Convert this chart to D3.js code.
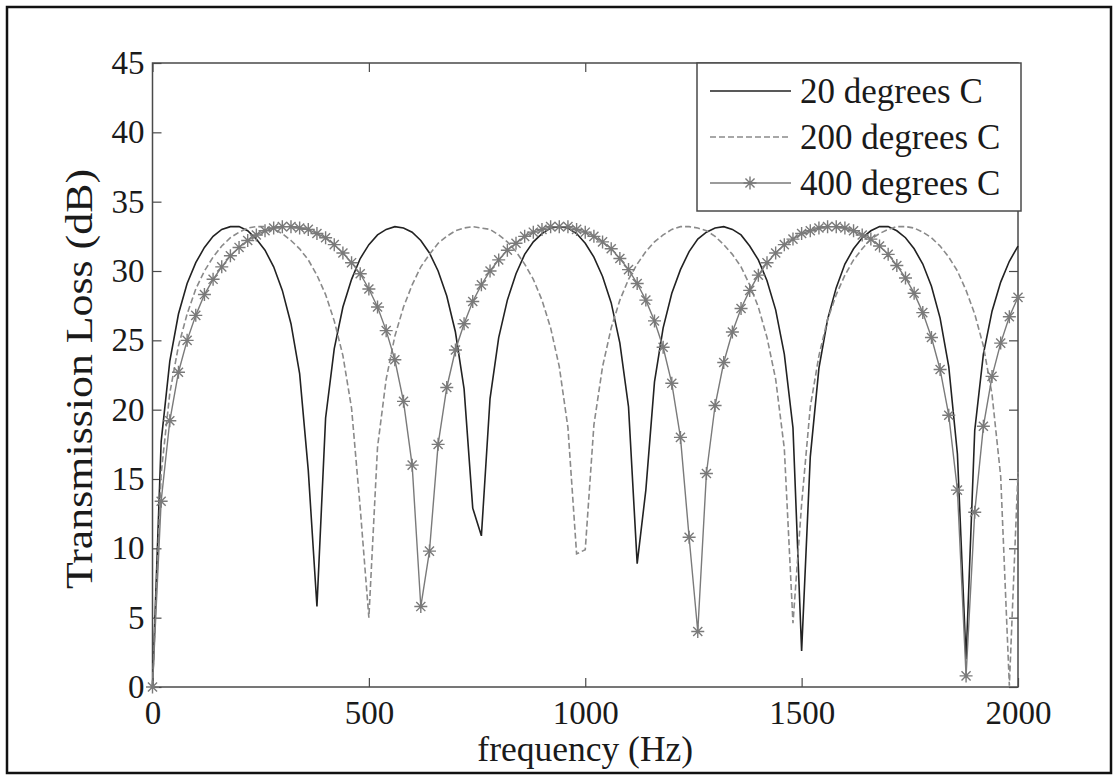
<!DOCTYPE html>
<html>
<head>
<meta charset="utf-8">
<script src="https://cdn.jsdelivr.net/npm/d3@7"></script>
<style>
  body { margin: 0; background: #fff; }
  svg text { font-family: "Liberation Serif", "Times New Roman", serif; fill: #1a1a1a; }
</style>
</head>
<body>
<svg id="chart" width="1120" height="776"></svg>
<script>
// sample grid (Hz), one point every 20 Hz
const freq = d3.range(0, 2001, 20);

// transmission loss (dB)
const tl20 = [0, 17.7, 23.5, 26.9, 29.1, 30.6, 31.7, 32.5, 33.0, 33.2,
  33.2, 32.9, 32.3, 31.5, 30.3, 28.6, 26.2, 22.6, 15.6, 5.8,
  19.4, 24.4, 27.4, 29.4, 30.9, 31.9, 32.6, 33.0, 33.2, 33.1,
  32.8, 32.2, 31.3, 30.0, 28.2, 25.6, 21.5, 12.9, 10.9, 20.8,
  25.2, 27.9, 29.8, 31.2, 32.1, 32.7, 33.1, 33.2, 33.1, 32.7,
  32.0, 31.0, 29.6, 27.7, 24.8, 20.2, 8.9, 14.2, 22.0, 25.9,
  28.4, 30.1, 31.4, 32.3, 32.8, 33.1, 33.2, 33.0, 32.6, 31.8,
  30.8, 29.3, 27.2, 24.0, 18.7, 2.6, 16.6, 23.0, 26.5, 28.8,
  30.5, 31.6, 32.4, 32.9, 33.2, 33.2, 32.9, 32.4, 31.6, 30.5,
  28.9, 26.6, 23.1, 16.8, 2.0, 18.5, 24.0, 27.1, 29.2, 30.7, 31.8];

const tl200 = [0, 15.4, 21.2, 24.6, 26.9, 28.7, 30.0, 31.0, 31.8, 32.4,
  32.8, 33.1, 33.2, 33.2, 33.0, 32.7, 32.2, 31.6, 30.8, 29.7,
  28.3, 26.4, 23.9, 20.1, 12.9, 5.0, 17.3, 22.2, 25.3, 27.4,
  29.0, 30.3, 31.2, 32.0, 32.5, 32.9, 33.1, 33.2, 33.1, 33.0,
  32.6, 32.1, 31.4, 30.5, 29.4, 27.9, 25.9, 23.1, 18.7, 9.6,
  9.9, 18.9, 23.1, 25.9, 27.9, 29.4, 30.5, 31.4, 32.1, 32.6,
  33.0, 33.2, 33.2, 33.1, 32.9, 32.5, 31.9, 31.2, 30.3, 29.0,
  27.4, 25.2, 22.2, 17.2, 4.6, 13.2, 20.2, 23.9, 26.5, 28.3,
  29.7, 30.8, 31.6, 32.3, 32.7, 33.0, 33.2, 33.2, 33.1, 32.8,
  32.4, 31.8, 31.0, 30.0, 28.6, 26.9, 24.6, 21.1, 15.2, 0.1, 15.5];

const tl400 = [0, 13.4, 19.2, 22.7, 25.0, 26.8, 28.3, 29.4, 30.3, 31.1,
  31.7, 32.2, 32.6, 32.9, 33.1, 33.2, 33.2, 33.1, 33.0, 32.7,
  32.4, 31.9, 31.3, 30.6, 29.8, 28.7, 27.4, 25.7, 23.6, 20.6,
  16.0, 5.8, 9.8, 17.5, 21.6, 24.3, 26.2, 27.8, 29.0, 30.0,
  30.8, 31.5, 32.0, 32.5, 32.8, 33.0, 33.2, 33.2, 33.2, 33.0,
  32.8, 32.5, 32.1, 31.6, 30.9, 30.1, 29.1, 27.9, 26.4, 24.5,
  21.9, 18.0, 10.8, 4.0, 15.4, 20.3, 23.4, 25.6, 27.3, 28.6,
  29.7, 30.6, 31.3, 31.9, 32.3, 32.7, 32.9, 33.1, 33.2, 33.2,
  33.1, 32.9, 32.6, 32.3, 31.8, 31.2, 30.4, 29.5, 28.4, 27.0,
  25.2, 22.9, 19.6, 14.2, 0.8, 12.6, 18.8, 22.4, 24.8, 26.7, 28.1];

const seriesNames = ["20 degrees C", "200 degrees C", "400 degrees C"];
const xTicks = [0, 500, 1000, 1500, 2000];
const yTicks = [0, 5, 10, 15, 20, 25, 30, 35, 40, 45];

const plotLeft = 152.5, plotRight = 1018, plotTop = 63, plotBottom = 687;

const svg = d3.select("#chart");

// outer frame of the figure
svg.append("rect")
    .attr("x", 7).attr("y", 7)
    .attr("width", 1104).attr("height", 766)
    .attr("fill", "none")
    .attr("stroke", "#111")
    .attr("stroke-width", 2.5);

const x = d3.scaleLinear().domain([0, 2000]).range([plotLeft, plotRight]);
const y = d3.scaleLinear().domain([0, 45]).range([plotBottom, plotTop]);

const axisColor = "#4a4a4a";
const tickLen = 9;

// axes with inward ticks on all four sides (matlab box style)
function styleAxis(g) {
  g.select(".domain").remove();
  g.selectAll(".tick line").attr("stroke", axisColor).attr("stroke-width", 1.2);
  g.selectAll(".tick text")
      .style("font-family", "'Liberation Serif', 'Times New Roman', serif")
      .style("font-size", "33px")
      .attr("fill", "#1a1a1a");
}

svg.append("g")
    .attr("transform", `translate(0,${plotBottom})`)
    .call(d3.axisBottom(x).tickValues(xTicks).tickSize(-tickLen).tickPadding(14).tickFormat(d3.format("d")))
    .call(styleAxis);

svg.append("g")
    .attr("transform", `translate(0,${plotTop})`)
    .call(d3.axisTop(x).tickValues(xTicks).tickSize(-tickLen).tickFormat(""))
    .call(styleAxis);

svg.append("g")
    .attr("transform", `translate(${plotLeft},0)`)
    .call(d3.axisLeft(y).tickValues(yTicks).tickSize(-tickLen).tickPadding(8).tickFormat(d3.format("d")))
    .call(styleAxis);

svg.append("g")
    .attr("transform", `translate(${plotRight},0)`)
    .call(d3.axisRight(y).tickValues(yTicks).tickSize(-tickLen).tickFormat(""))
    .call(styleAxis);

svg.append("rect")
    .attr("x", plotLeft).attr("y", plotTop)
    .attr("width", plotRight - plotLeft).attr("height", plotBottom - plotTop)
    .attr("fill", "none")
    .attr("stroke", axisColor)
    .attr("stroke-width", 1.5);

// axis titles
svg.append("text")
    .attr("x", (plotLeft + plotRight) / 2)
    .attr("y", 761)
    .attr("text-anchor", "middle")
    .style("font-size", "35.5px")
    .text("frequency (Hz)");

svg.append("text")
    .attr("transform", `translate(92,379) rotate(-90)`)
    .attr("text-anchor", "middle")
    .attr("textLength", 420)
    .attr("lengthAdjust", "spacingAndGlyphs")
    .style("font-size", "38px")
    .text("Transmission Loss (dB)");

const line = d3.line()
    .x((d, i) => x(freq[i]))
    .y(d => y(d));

svg.append("path")
    .datum(tl20)
    .attr("d", line)
    .attr("fill", "none")
    .attr("stroke", "#222")
    .attr("stroke-width", 1.6);

svg.append("path")
    .datum(tl200)
    .attr("d", line)
    .attr("fill", "none")
    .attr("stroke", "#8a8a8a")
    .attr("stroke-width", 1.6)
    .attr("stroke-dasharray", "6,3");

svg.append("path")
    .datum(tl400)
    .attr("d", line)
    .attr("fill", "none")
    .attr("stroke", "#7a7a7a")
    .attr("stroke-width", 1.4);

// matlab style '*' marker
const r = 6.5, q = r * 0.7;
const starPath = `M${-r},0H${r}M0,${-r}V${r}M${-q},${-q}L${q},${q}M${-q},${q}L${q},${-q}`;

svg.append("g")
  .selectAll("path")
  .data(tl400)
  .join("path")
    .attr("transform", (d, i) => `translate(${x(freq[i])},${y(d)})`)
    .attr("d", starPath)
    .attr("fill", "none")
    .attr("stroke", "#7a7a7a")
    .attr("stroke-width", 1.4);

// legend
const legend = svg.append("g");
legend.append("rect")
    .attr("x", 697).attr("y", 63)
    .attr("width", 324).attr("height", 148)
    .attr("fill", "#fff")
    .attr("stroke", axisColor)
    .attr("stroke-width", 1.5);

const legendStyles = [
  { stroke: "#222", dash: null, width: 1.6 },
  { stroke: "#8a8a8a", dash: "6,3", width: 1.6 },
  { stroke: "#7a7a7a", dash: null, width: 1.4 }
];

seriesNames.forEach((name, i) => {
  const ly = 91 + i * 46;
  legend.append("line")
      .attr("x1", 710).attr("x2", 791)
      .attr("y1", ly).attr("y2", ly)
      .attr("stroke", legendStyles[i].stroke)
      .attr("stroke-width", legendStyles[i].width)
      .attr("stroke-dasharray", legendStyles[i].dash);
  if (i === 2) {
    legend.append("path")
        .attr("transform", `translate(750,${ly})`)
        .attr("d", starPath)
        .attr("fill", "none")
        .attr("stroke", "#7a7a7a")
        .attr("stroke-width", 1.4);
  }
  legend.append("text")
      .attr("x", 800)
      .attr("y", ly + 12)
      .style("font-size", "35px")
      .text(name);
});
</script>
</body>
</html>
